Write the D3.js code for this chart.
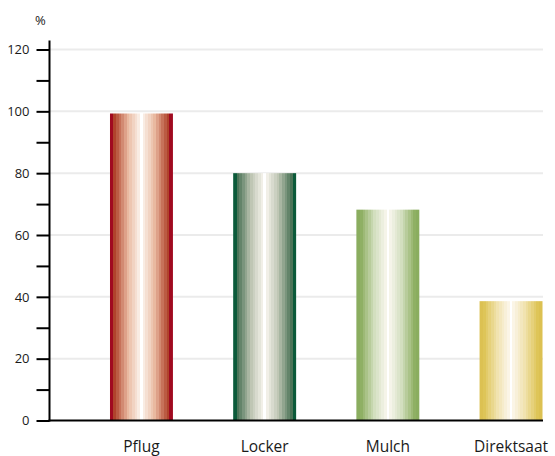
<!DOCTYPE html>
<html>
<head>
<meta charset="utf-8">
<script src="https://cdn.jsdelivr.net/npm/d3@7"></script>
<style>
  html, body { margin: 0; padding: 0; background: #fff; }
  svg { display: block; }
  text { font-family: "Open Sans", "Noto Sans", sans-serif; fill: #1a1a1a; }
</style>
</head>
<body>
<svg id="chart" width="555" height="456"></svg>
<script>
// ---- data ----
const categories = ["Pflug", "Locker", "Mulch", "Direktsaat"];
const values = [99.3, 80, 68.2, 38.6];
const yTickLabels = [0, 20, 40, 60, 80, 100, 120];
const yMinorTicks = [10, 30, 50, 70, 90, 110];
const unitLabel = "%";

// ---- styles ----
const barStyles = [
  { edge: "#a00a20", inner: "#b0432c", mid: "#e9b9a0" },
  { edge: "#0b5a3a", inner: "#4c7458", mid: "#bfc6b4" },
  { edge: "#8aad5f", inner: "#8fb064", mid: "#d3dfbf" },
  { edge: "#dcc152", inner: "#dec558", mid: "#f1e3b0" }
];

const svg = d3.select("#chart");
const x0 = 49.5, xEnd = 543, yBase = 420.5, yTop = 49.5;

const y = d3.scaleLinear().domain([0, 120]).range([yBase, yTop]);
const x = d3.scaleBand().domain(categories)
  .range([x0, 603]).paddingInner(0.489).paddingOuter(0.491);

// gradients
const defs = svg.append("defs");
const nHalf = 12;
barStyles.forEach((s, i) => {
  const g = defs.append("linearGradient").attr("id", "g" + i)
    .attr("x1", 0).attr("x2", 1).attr("y1", 0).attr("y2", 0);
  const colors = [];
  for (let k = 0; k < nHalf; k++) {
    let c;
    if (k === 0) c = s.edge;
    else if (k === nHalf - 1) c = "#ffffff";
    else {
      const t = (k - 1) / (nHalf - 2);
      c = t < 0.5 ? d3.interpolateRgb(s.inner, s.mid)(t * 2)
                  : d3.interpolateRgb(s.mid, "#fdf9f4")((t - 0.5) * 2);
    }
    colors.push(c);
  }
  const full = colors.concat(colors.slice().reverse().slice(1));
  const w = full.map(() => 1);
  w[0] = 1.3; w[w.length - 1] = 1.3;
  const tot = d3.sum(w);
  let acc = 0;
  full.forEach((c, k) => {
    g.append("stop").attr("offset", acc / tot).attr("stop-color", c);
    acc += w[k];
    g.append("stop").attr("offset", acc / tot).attr("stop-color", c);
  });
});

// gridlines
svg.append("g").selectAll("line")
  .data(yTickLabels.filter(d => d > 0))
  .join("line")
  .attr("x1", x0).attr("x2", xEnd)
  .attr("y1", d => y(d)).attr("y2", d => y(d))
  .attr("stroke", "#ebebeb").attr("stroke-width", 2);

// bars
svg.append("g").selectAll("rect")
  .data(values)
  .join("rect")
  .attr("x", (d, i) => x(categories[i]))
  .attr("width", x.bandwidth())
  .attr("y", d => y(d))
  .attr("height", d => y(0) - y(d))
  .attr("fill", (d, i) => `url(#g${i})`);

// y axis
const yAxis = d3.axisLeft(y)
  .tickValues(yTickLabels.concat(yMinorTicks).sort((a, b) => a - b))
  .tickSize(13)
  .tickPadding(7)
  .tickFormat(d => yTickLabels.includes(d) ? d : "");
const ga = svg.append("g").attr("transform", `translate(${x0},0)`).call(yAxis);
ga.select(".domain").remove();
ga.selectAll(".tick line").attr("stroke", "#000").attr("stroke-width", 2);
ga.selectAll(".tick text").attr("font-size", 13).style("fill", "#1a1a1a")
  .attr("font-family", "'Open Sans', sans-serif");
svg.append("line").attr("x1", x0).attr("x2", x0)
  .attr("y1", 40.5).attr("y2", yBase + 1)
  .attr("stroke", "#000").attr("stroke-width", 2);

// x axis line
svg.append("line").attr("x1", x0 - 1).attr("x2", xEnd)
  .attr("y1", yBase).attr("y2", yBase)
  .attr("stroke", "#000").attr("stroke-width", 2);

// x labels
const xAxis = d3.axisBottom(x).tickSize(0).tickPadding(20);
const gx = svg.append("g").attr("transform", `translate(0,${yBase})`).call(xAxis);
gx.select(".domain").remove();
gx.selectAll(".tick text").attr("font-size", 15.5).style("fill", "#1a1a1a")
  .attr("font-family", "'Open Sans', sans-serif");

// unit
svg.append("text").attr("x", 35).attr("y", 25).attr("font-size", 13).text(unitLabel);
</script>
</body>
</html>
